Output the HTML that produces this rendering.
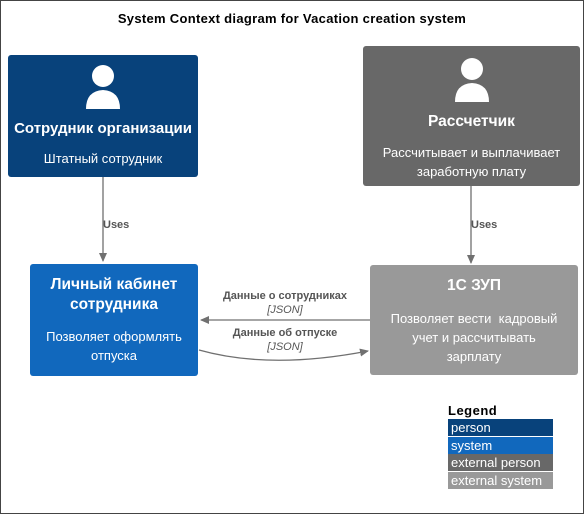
<!DOCTYPE html>
<html><head><meta charset="utf-8"><style>
body{margin:0;width:584px;height:514px;background:#fff;font-family:"Liberation Sans",Arial,sans-serif;position:relative;overflow:hidden}
.b{position:absolute;border-radius:3px;color:#fff;text-align:center;box-sizing:border-box}
.t{font-weight:bold;font-size:15.5px}
.d{font-size:13px;line-height:19px}
.l{position:absolute;font-size:11px;color:#555;text-align:center}
.lg{position:absolute;left:448px;width:105px;height:17px;color:#fff;font-size:13px;line-height:17px;padding-left:3px;box-sizing:border-box}
</style></head><body>
<div style="position:absolute;left:0;top:0;width:582px;height:512px;border:1px solid #444"></div>
<div style="position:absolute;left:0;top:11px;width:584px;text-align:center;font-size:13px;font-weight:bold;letter-spacing:0.3px">System Context diagram for Vacation creation system</div>
<svg width="584" height="514" style="position:absolute;left:0;top:0">
<defs><marker id="a" markerWidth="10" markerHeight="10" refX="8" refY="4" orient="auto" markerUnits="userSpaceOnUse"><path d="M0,0 L9,4 L0,8 z" fill="#707070"/></marker></defs>
<g stroke="#707070" stroke-width="1.3" fill="none">
<line x1="103" y1="177" x2="103" y2="261" marker-end="url(#a)"/>
<line x1="471" y1="186" x2="471" y2="263" marker-end="url(#a)"/>
<line x1="370" y1="320" x2="201" y2="320" marker-end="url(#a)"/>
<path d="M199,350 Q270,370 368,351" marker-end="url(#a)"/>
</g></svg>
<div class="b" style="left:8px;top:55px;width:190px;height:122px;background:#08427b">
<svg width="40" height="48" style="margin-top:8px"><circle cx="20" cy="13" r="11" fill="#fff"/><path d="M3,46 Q3,28 20,27 Q37,28 37,46 z" fill="#fff"/></svg>
<div class="t" style="margin-top:4px;font-size:15px">Сотрудник организации</div>
<div class="d" style="margin-top:12px">Штатный сотрудник</div></div>
<div class="b" style="left:363px;top:46px;width:217px;height:140px;background:#686868">
<svg width="40" height="48" style="margin-top:10px"><circle cx="20" cy="13" r="11" fill="#fff"/><path d="M3,46 Q3,28 20,27 Q37,28 37,46 z" fill="#fff"/></svg>
<div class="t" style="margin-top:4px">Рассчетчик</div>
<div class="d" style="margin-top:12px">Рассчитывает и выплачивает<br>заработную плату</div></div>
<div class="b" style="left:30px;top:264px;width:168px;height:112px;background:#1168bd">
<div class="t" style="margin-top:11px;line-height:20px">Личный кабинет<br>сотрудника</div>
<div class="d" style="margin-top:12px">Позволяет оформлять<br>отпуска</div></div>
<div class="b" style="left:370px;top:265px;width:208px;height:110px;background:#999">
<div class="t" style="margin-top:12px">1С ЗУП</div>
<div class="d" style="margin-top:14px">Позволяет вести&nbsp; кадровый<br>учет и рассчитывать<br>зарплату</div></div>
<div class="l" style="left:103px;top:219px;font-weight:bold">Uses</div>
<div class="l" style="left:471px;top:219px;font-weight:bold">Uses</div>
<div class="l" style="left:200px;top:289px;width:170px;line-height:14px"><b>Данные о сотрудниках</b><br><i>[JSON]</i></div>
<div class="l" style="left:200px;top:326px;width:170px;line-height:14px"><b>Данные об отпуске</b><br><i>[JSON]</i></div>
<div style="position:absolute;left:448px;top:403px;font-size:13px;font-weight:bold;letter-spacing:0.5px">Legend</div>
<div class="lg" style="top:419px;background:#08427b">person</div>
<div class="lg" style="top:437px;background:#1168bd">system</div>
<div class="lg" style="top:454px;background:#686868">external person</div>
<div class="lg" style="top:472px;background:#999">external system</div>
</body></html>
